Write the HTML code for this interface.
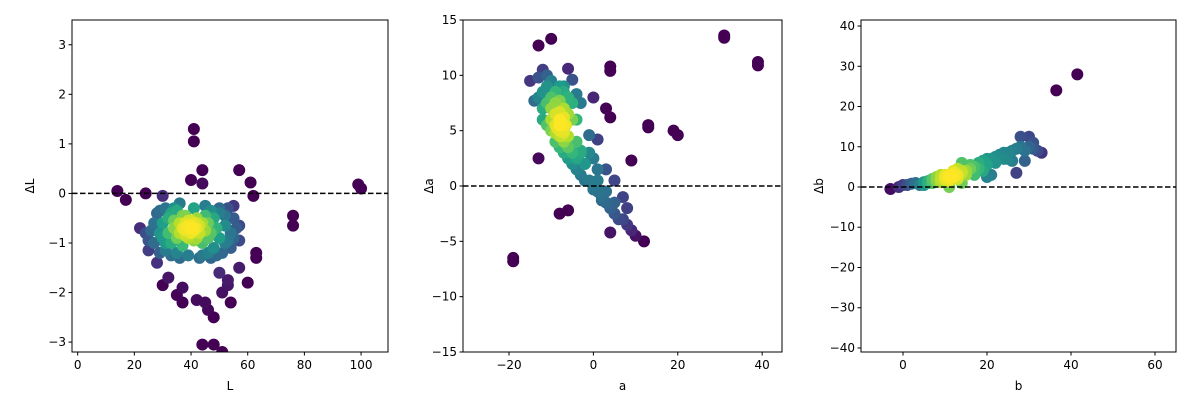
<!DOCTYPE html>
<html><head><meta charset="utf-8">
<style>
html,body{margin:0;padding:0;background:#fff;}
svg{display:block;font-family:"DejaVu Sans","Liberation Sans",sans-serif;}
</style></head>
<body>
<svg id="chart" width="1200" height="400" viewBox="0 0 1200 400" xmlns="http://www.w3.org/2000/svg"></svg>
<script>
// ---------- data ----------
const panel1Points = [[14,0.05],[17,-0.13],[24,0],[30,-0.05],[40,0.27],[41,1.3],[41,1.05],[44,0.47],[44,0.2],[57,0.47],[61,0.22],[62,-0.05],[76,-0.45],[76,-0.65],[99,0.18],[100,0.1],[22,-0.7],[25,-1.15],[28,-1.4],[30,-1.85],[32,-1.7],[37,-1.9],[37,-2.2],[42,-2.15],[45,-2.2],[46,-2.35],[48,-2.5],[44,-3.05],[48,-3.05],[51,-3.2],[51,-2.0],[53,-1.85],[54,-2.2],[53,-1.75],[57,-1.5],[57,-0.65],[57,-0.95],[60,-1.8],[63,-1.2],[63,-1.3],[55,-0.25],[50,-1.6],[35,-2.05],
[28,-0.4],[30,-0.6],[30,-0.9],[31,-0.3],[32,-0.5],[32,-0.8],[33,-1.0],[33,-0.4],[34,-0.7],[34,-0.55],[35,-0.9],[35,-0.35],[36,-0.6],[36,-0.8],[37,-0.7],[37,-1.05],[37,-0.45],[38,-0.6],[38,-0.85],[38,-0.75],[39,-0.65],[39,-0.9],[40,-0.7],[40,-0.55],[40,-0.8],[41,-0.75],[41,-0.6],[42,-0.7],[42,-0.9],[42,-0.5],[43,-0.8],[43,-0.65],[44,-0.6],[44,-1.0],[45,-0.75],[45,-0.45],[46,-0.9],[46,-0.6],[47,-0.8],[48,-0.5],[48,-1.1],[49,-0.7],[50,-0.9],[50,-0.4],[51,-1.2],[52,-0.65],[53,-0.3],[53,-0.95],[54,-0.8],[26,-0.75],[27,-1.0],[29,-1.2],[31,-1.15],[35,-1.2],[39,-1.25],[43,-1.3],[47,-1.3],[45,-0.25],[41,-0.3],[36,-0.2],[24,-0.8],[55,-0.5],[55,-0.9],[38,-0.45],[41,-0.95],[39,-0.55],[40,-0.65],[41,-0.7],[38,-0.7],[42,-0.6],
[27,-0.6],[29,-0.35],[31,-1.0],[52,-0.45],[54,-1.1],[49,-1.25],[33,-1.25],[46,-1.2],[50,-0.3],[34,-0.3],[47,-0.35],[56,-0.7],[25,-0.95],[52,-1.0],[29,-0.8],[44,-1.25],[36,-1.3]];
const panel2Points = [[-19,-6.5],[-19,-6.8],[-13,12.7],[-10,13.3],[-13,2.5],[-8,-2.5],[-6,-2.2],[4,10.8],[4,10.4],[4,6.2],[3,7],[0,8],[13,5.5],[13,5.3],[19,5],[20,4.6],[31,13.6],[31,13.4],[39,11.2],[39,10.9],[9,2.3],[5,0.5],[4,-4.2],[7,-1],[8,-2],[10,-4.5],[12,-5],[-1,4.6],[1,4.2],[-2,2],[1,1.5],[3,1.5],[-15,9.5],[-12,10.5],[-6,10.6],[-5,9.6],[-7,9],[-3,3.2],
[-14,7.7],[-13,8],[-12,8.5],[-11,9],[-10,9.5],[-9,8.5],[-8,9],[-12,7],[-11,7.5],[-10,8],[-10,7],[-9,7.5],[-9,6.5],[-8,7.7],[-8,6],[-7,7],[-7,5.5],[-6,6.5],[-6,8],[-5,7.5],[-5,6],[-10,6],[-9,5.5],[-8,5],[-8,4.5],[-7,4.8],[-7,4],[-6,4.5],[-6,3.5],[-9,4],[-10,5],[-8,3.5],[-5,3],[-7,3],[-6,2.5],[-5,2],[-4,2.5],[-4,1.5],[-3,1],[-2,0.5],[-1,0.5],[0,0],[0,-0.3],[1,-0.5],[2,-1],[2,-1.3],[3,-1.5],[4,-2],[5,-2.5],[6,-3],[7,-3],[8,-3.5],[9,-4],[-11,5.5],[-12,6],[-7,8.5],[-4,4],[-3,3],[-2,2],[-4,8.3],[-3,7.5],[-8,5.5],[-7,5],[-9,4.8],[-7.5,4.5],[-8.5,5.2],[-6.5,5.5],[-7,6.2],[-8,6.7],
[-11,10],[-4,6],[-1,3],[0,2.5],[1,0.5],[3,-0.5],[5,-1.5],[-13,9.8]];
const panel3Points = [[36.5,24],[41.5,28],[28,12.5],[30,12.5],[31,11],[33,8.5],[27,3.5],[20,2.5],[21,3],[14,1],[11,0],[25,7],[29,6.5],
[-3,-0.5],[-1,0],[0,0.5],[1,0.5],[2,0.8],[3,1],[4,0.5],[5,1.2],[5,0.5],[6,1.5],[6,1],[7,2],[7,1],[8,1.5],[8,2.5],[9,2],[9,1.2],[10,2.5],[10,1.8],[10,3],[11,2],[11,3],[12,2.5],[12,3.5],[13,3],[13,2],[14,3.5],[14,4],[15,4],[15,3],[16,4.5],[16,5.5],[17,5],[18,6],[18,4.5],[19,6.5],[20,7],[20,5.5],[21,7],[22,7.5],[22,6],[23,8],[24,8.5],[24,7],[25,8.5],[26,9],[27,9.5],[28,10],[29,9],[30,10],[31,9.5],[32,9],[26,6.5],[12,4],[11,1.5],[9,3],[13,4.5],[14,6],[17,3],[19,4],[10.5,2.5],[11.5,2.8],[12.5,3],[10,2.2],[11,2.5]];
const panel1XTicks = [0,20,40,60,80,100];
const panel1YTicks = [-3,-2,-1,0,1,2,3];
const panel2XTicks = [-20,0,20,40];
const panel2YTicks = [-15,-10,-5,0,5,10,15];
const panel3XTicks = [0,20,40,60];
const panel3YTicks = [-40,-30,-20,-10,0,10,20,30,40];

const NS = "http://www.w3.org/2000/svg";
const svg = document.getElementById('chart');
function mk(tag, attrs, parent){const e=document.createElementNS(NS,tag);for(const k in attrs)e.setAttribute(k,attrs[k]);(parent||svg).appendChild(e);return e;}
const VIR=[[68,1,84],[72,40,120],[62,73,137],[49,104,142],[38,130,142],[31,158,137],[53,183,121],[109,205,89],[180,222,44],[253,231,37]];
function viridis(t){t=Math.max(0,Math.min(1,t))*(VIR.length-1);const i=Math.min(Math.floor(t),VIR.length-2),f=t-i;const a=VIR[i],b=VIR[i+1];return `rgb(${[0,1,2].map(k=>Math.round(a[k]+(b[k]-a[k])*f)).join(',')})`;}

const panels = [
 {name:'l',box:[72,20,388,352],xd:[-2,109.5],yd:[3.5,-3.2],pts:panel1Points,xt:panel1XTicks,yt:panel1YTicks,xl:'L',yl:'ΔL'},
 {name:'a',box:[463,20,782,352],xd:[-30.9,44.7],yd:[15,-15],pts:panel2Points,xt:panel2XTicks,yt:panel2YTicks,xl:'a',yl:'Δa'},
 {name:'b',box:[861,20,1176,352],xd:[-10,65],yd:[41.5,-41],pts:panel3Points,xt:panel3XTicks,yt:panel3YTicks,xl:'b',yl:'Δb'}
];
panels.forEach(p=>{
 const [x0,y0,x1,y1]=p.box;
 const sx=v=>x0+(v-p.xd[0])/(p.xd[1]-p.xd[0])*(x1-x0);
 const sy=v=>y0+(v-p.yd[0])/(p.yd[1]-p.yd[0])*(y1-y0);
 const g=mk('g',{});
 
 
 const cp=mk('clipPath',{id:'clip-'+p.name},g);mk('rect',{x:x0,y:y0,width:x1-x0,height:y1-y0},cp);
 const pg=mk('g',{'clip-path':'url(#clip-'+p.name+')'},g);
 const px=p.pts.map(d=>[sx(d[0]),sy(d[1])]);
 const dens=px.map(a=>px.reduce((s,b)=>{const d2=(a[0]-b[0])**2+(a[1]-b[1])**2;return s+Math.exp(-d2/(2*16*16));},0));
 const mx=Math.max(...dens),mn=Math.min(...dens);
 const order=px.map((_,i)=>i).sort((i,j)=>dens[i]-dens[j]);
 order.forEach(i=>{
  let t=(dens[i]-mn)/(mx-mn);
  t=Math.max(0,(t-0.08)/0.92);
  const c=mk('circle',{cx:px[i][0],cy:px[i][1],r:6,fill:viridis(t)},pg);
  
  
 });
 const zl=mk('line',{x1:x0,x2:x1,y1:sy(0),y2:sy(0),stroke:'#000','stroke-width':1.5,'stroke-dasharray':'5.5,2.5'},g);
 
 
 const fr=mk('rect',{x:x0,y:y0,width:x1-x0,height:y1-y0,fill:'none',stroke:'#000','stroke-width':1},g);
 
 
 p.xt.forEach(v=>{const x=sx(v);mk('line',{x1:x,x2:x,y1:y1,y2:y1+3.5,stroke:'#000'},g);
  const t=mk('text',{x:x,y:y1+17,'text-anchor':'middle','font-size':12},g);t.textContent=v<0?'−'+(-v):v;
  
  });
 p.yt.forEach(v=>{const y=sy(v);mk('line',{x1:x0-3.5,x2:x0,y1:y,y2:y,stroke:'#000'},g);
  const t=mk('text',{x:x0-6,y:y+4,'text-anchor':'end','font-size':12},g);t.textContent=v<0?'−'+(-v):v;
  
  });
 const xt=mk('text',{x:(x0+x1)/2,y:y1+38,'text-anchor':'middle','font-size':12},g);xt.textContent=p.xl;
 
 
 const ytx=x0-(p.name==='a'?30:38),ym=(y0+y1)/2;
 const yt=mk('text',{x:ytx,y:ym,'text-anchor':'middle','font-size':12,transform:`rotate(-90 ${ytx} ${ym})`},g);yt.textContent=p.yl;
 
 
});
</script>
</body></html>
